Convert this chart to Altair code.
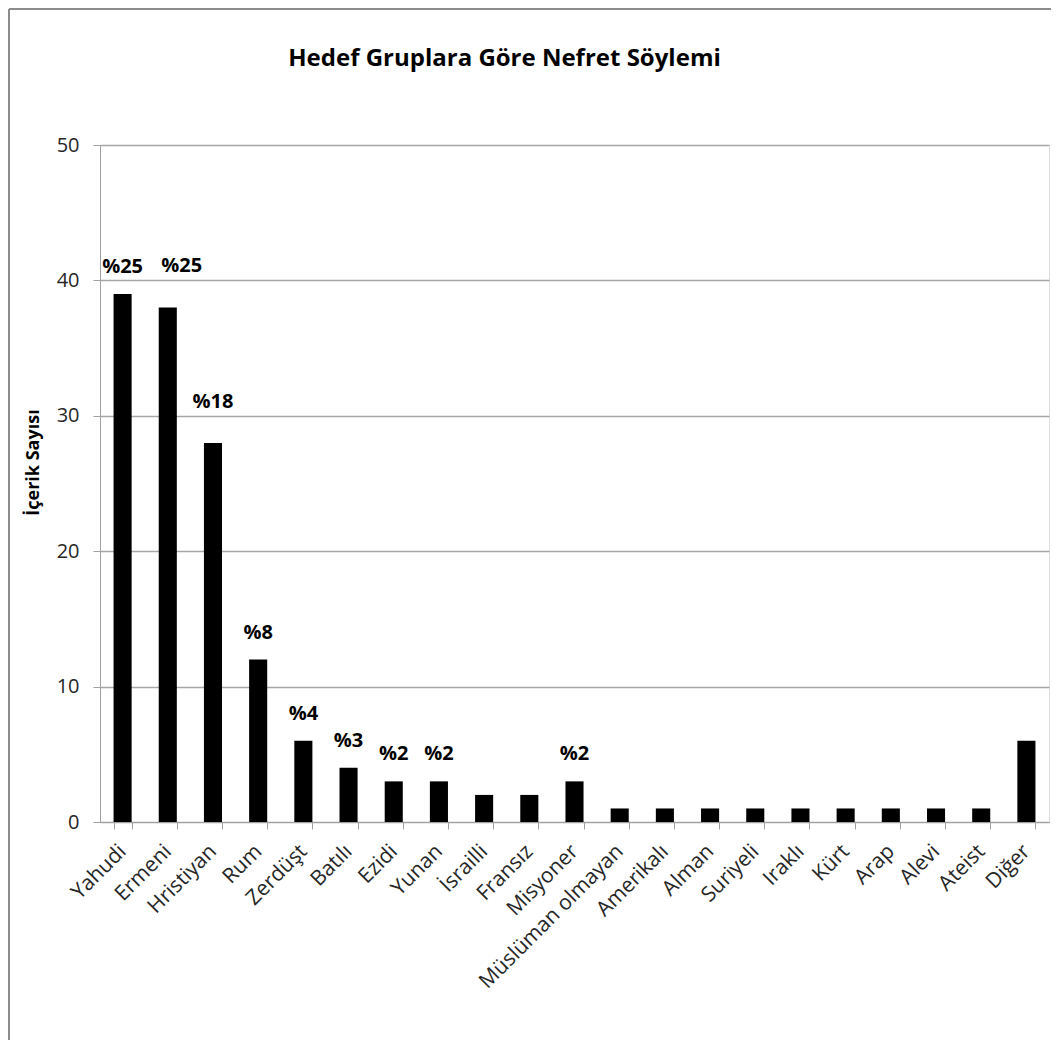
import altair as alt
import pandas as pd

groups = ["Yahudi", "Ermeni", "Hristiyan", "Rum", "Zerdüşt", "Batılı", "Ezidi",
          "Yunan", "İsrailli", "Fransız", "Misyoner", "Müslüman olmayan",
          "Amerikalı", "Alman", "Suriyeli", "Iraklı", "Kürt", "Arap", "Alevi",
          "Ateist", "Diğer"]
counts = [39, 38, 28, 12, 6, 4, 3, 3, 2, 2, 3, 1, 1, 1, 1, 1, 1, 1, 1, 1, 6]
pct_labels = ["%25", "%25", "%18", "%8", "%4", "%3", "%2", "%2", "", "", "%2",
              "", "", "", "", "", "", "", "", "", ""]

df = pd.DataFrame({"grup": groups, "sayi": counts, "etiket": pct_labels})

FONT = "Open Sans"

x_enc = alt.X("grup:N", sort=groups,
              scale=alt.Scale(paddingInner=0.6, paddingOuter=0.3),
              axis=alt.Axis(title=None, labelAngle=-45, labelAlign="right",
                            labelBaseline="middle", labelPadding=19,
                            labelFontSize=21, labelFont=FONT, labelColor="#262626",
                            labelLimit=400,
                            tickBand="extent", tickSize=7, tickColor="#a0a0a0",
                            domainColor="#a0a0a0", grid=False, labelOverlap=False,
                            labelBound=False))
y_enc = alt.Y("sayi:Q", scale=alt.Scale(domain=[0, 50], nice=False),
              axis=alt.Axis(title="İçerik Sayısı", values=[0, 10, 20, 30, 40, 50],
                            titleFont=FONT, titleFontSize=18, titleFontWeight="bold",
                            titleColor="#000000", titleAngle=270,
                            titleX=-67, titleY=317, titleAlign="center",
                            titleBaseline="middle",
                            labelFont=FONT, labelFontSize=20, labelColor="#262626",
                            labelPadding=14, tickSize=7, tickColor="#a0a0a0",
                            domainColor="#a0a0a0", gridColor="#a6a6a6",
                            gridWidth=1.3))

bars = alt.Chart(df).mark_bar(color="#000000").encode(x=x_enc, y=y_enc)


def label_layer(dx, dy):
    return alt.Chart(df).mark_text(font=FONT, fontSize=20, fontWeight="bold",
                                   color="#000000", baseline="middle",
                                   dx=dx, dy=dy).encode(
        x=alt.X("grup:N", sort=groups), y="sayi:Q", text="etiket:N")


lab_normal = label_layer(0, -27).transform_filter(
    "datum.grup != 'Ermeni' && datum.grup != 'Hristiyan'")
lab_hri = label_layer(0, -41).transform_filter("datum.grup == 'Hristiyan'")
lab_erm = label_layer(14, -41).transform_filter("datum.grup == 'Ermeni'")

frame_top = alt.Chart(df).mark_rule(color="#8c8c8c", strokeWidth=2).encode(
    x=alt.value(-91), x2=alt.value(951), y=alt.value(-136))
frame_left = alt.Chart(df).mark_rule(color="#8c8c8c", strokeWidth=2).encode(
    x=alt.value(-91), y=alt.value(-136), y2=alt.value(895))

chart = alt.layer(bars, lab_normal, lab_hri, lab_erm, frame_top, frame_left).properties(
    width=949, height=677,
    title=alt.TitleParams("Hedef Gruplara Göre Nefret Söylemi", font=FONT,
                          fontSize=24, fontWeight="bold", color="#000000",
                          anchor="middle", frame="group", offset=-63, dx=-70),
    autosize=alt.AutoSizeParams(type="none"),
    padding={"left": 92, "top": 137, "right": 2, "bottom": 218},
).configure_view(stroke=None).configure(background="#ffffff")

chart.save("out.html", embed_options={"renderer": "svg", "actions": False})
